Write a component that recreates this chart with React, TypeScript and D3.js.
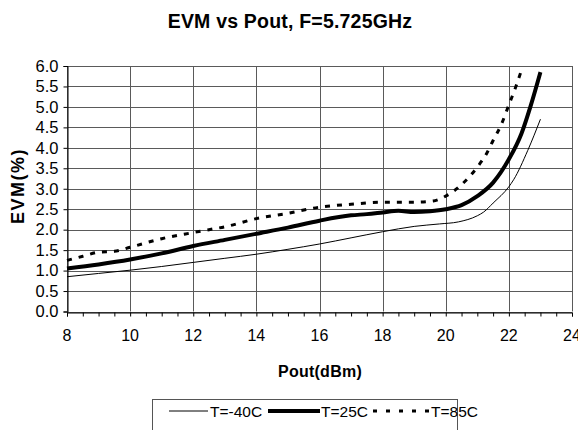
// @ts-nocheck
import React, { useRef, useEffect } from 'react';
import * as d3 from 'd3';

// EVM (%) vs output power
const seriesNames = ["T=-40C", "T=25C", "T=85C"];

const coldPout = [8, 9, 10, 11, 12, 13, 14, 15, 16, 17, 18, 19, 19.8, 20.4, 21, 21.2, 21.5, 22, 22.15, 22.6, 23];
const coldEvm = [0.85, 0.93, 1.01, 1.1, 1.2, 1.3, 1.4, 1.52, 1.65, 1.8, 1.95, 2.08, 2.14, 2.19, 2.34, 2.43, 2.65, 3.05, 3.22, 3.94, 4.7];

const roomPout = [8, 9, 10, 11, 12, 13, 14, 15, 16, 17, 17.5, 18, 18.5, 19, 19.5, 20, 20.5, 21, 21.5, 22, 22.4, 22.7, 23];
const roomEvm = [1.05, 1.15, 1.27, 1.42, 1.6, 1.75, 1.9, 2.05, 2.22, 2.35, 2.38, 2.42, 2.46, 2.43, 2.45, 2.5, 2.6, 2.82, 3.15, 3.72, 4.35, 5.05, 5.85];

const hotPout = [8, 8.5, 9, 9.5, 10, 11, 12, 12.5, 13, 14, 15, 16, 17, 18, 19, 19.6, 20, 20.5, 21, 21.3, 21.5, 21.75, 22, 22.2, 22.4];
const hotEvm = [1.25, 1.35, 1.45, 1.47, 1.57, 1.78, 1.93, 2.0, 2.07, 2.27, 2.4, 2.55, 2.62, 2.67, 2.67, 2.7, 2.82, 3.1, 3.53, 3.87, 4.18, 4.55, 5.05, 5.45, 5.9];

const xTicks = [8, 10, 12, 14, 16, 18, 20, 22, 24];
const yTicks = [0, 0.5, 1, 1.5, 2, 2.5, 3, 3.5, 4, 4.5, 5, 5.5, 6];

const FONT = "'Liberation Sans', Arial, sans-serif";

const EvmChart = () => {
    const svgRef = useRef(null);

    useEffect(() => {
        const svg = d3.select(svgRef.current);
        svg.selectAll('*').remove();

        const left = 67, right = 572, top = 66, bottom = 311.5;

        const x = d3.scaleLinear().domain([8, 24]).range([left, right]);
        const y = d3.scaleLinear().domain([0, 6]).range([bottom, top]);

        // title
        svg.append("text")
            .attr("x", 290)
            .attr("y", 27.5)
            .attr("text-anchor", "middle")
            .attr("font-family", FONT)
            .attr("font-weight", "bold")
            .attr("font-size", 19.5)
            .attr("letter-spacing", 0.2)
            .text("EVM vs Pout, F=5.725GHz");

        // grid
        const grid = svg.append("g").attr("stroke", "#5a5a5a").attr("stroke-width", 1);
        yTicks.forEach(t => {
            grid.append("line")
                .attr("x1", left).attr("x2", right)
                .attr("y1", Math.round(y(t)) + 0.5).attr("y2", Math.round(y(t)) + 0.5);
        });
        xTicks.forEach(t => {
            grid.append("line")
                .attr("x1", Math.round(x(t)) + 0.5).attr("x2", Math.round(x(t)) + 0.5)
                .attr("y1", top).attr("y2", bottom);
        });

        // axes
        const xAxis = d3.axisBottom(x)
            .tickValues(d3.range(8, 24.01, 0.5))
            .tickSize(4)
            .tickFormat(() => "");
        svg.append("g")
            .attr("transform", `translate(0,${Math.round(bottom) + 0.5})`)
            .call(xAxis)
            .call(g => g.select(".domain").attr("stroke", "#000"));

        svg.append("g")
            .selectAll("text")
            .data(xTicks)
            .enter().append("text")
            .attr("x", d => x(d))
            .attr("y", 341)
            .attr("text-anchor", "middle")
            .attr("font-family", FONT)
            .attr("font-size", 16)
            .text(d => d);

        const yAxis = d3.axisLeft(y)
            .tickValues(yTicks)
            .tickSize(4)
            .tickPadding(5)
            .tickFormat(d3.format(".1f"));
        svg.append("g")
            .attr("transform", `translate(${left + 0.5},0)`)
            .call(yAxis)
            .call(g => g.selectAll("text").attr("font-family", FONT).attr("font-size", 16.5).attr("fill", "#000"));

        // axis titles
        svg.append("text")
            .attr("x", 320)
            .attr("y", 377)
            .attr("text-anchor", "middle")
            .attr("font-family", FONT)
            .attr("font-weight", "bold")
            .attr("font-size", 16)
            .attr("letter-spacing", 0.25)
            .text("Pout(dBm)");

        svg.append("text")
            .attr("transform", "translate(24,186) rotate(-90)")
            .attr("text-anchor", "middle")
            .attr("font-family", FONT)
            .attr("font-weight", "bold")
            .attr("font-size", 18)
            .attr("letter-spacing", 1.5)
            .text("EVM(%)");

        // series
        const line = d3.line()
            .x(d => x(d[0]))
            .y(d => y(d[1]))
            .curve(d3.curveMonotoneX);

        const styles = [
            { width: 1, dash: null },
            { width: 4, dash: null },
            { width: 3, dash: "5,7" }
        ];
        const series = [
            d3.zip(coldPout, coldEvm),
            d3.zip(roomPout, roomEvm),
            d3.zip(hotPout, hotEvm)
        ];

        series.forEach((pts, i) => {
            svg.append("path")
                .datum(pts)
                .attr("fill", "none")
                .attr("stroke", "#000")
                .attr("stroke-width", styles[i].width)
                .attr("stroke-dasharray", styles[i].dash)
                .attr("d", line);
        });

        // legend
        svg.append("rect")
            .attr("x", 152.5)
            .attr("y", 399.5)
            .attr("width", 305)
            .attr("height", 40)
            .attr("fill", "#fff")
            .attr("stroke", "#555");

        const legendPos = [
            { x1: 169, x2: 208, tx: 210 },
            { x1: 268, x2: 320, tx: 321 },
            { x1: 373, x2: 430, tx: 431 }
        ];
        seriesNames.forEach((name, i) => {
            const p = legendPos[i];
            svg.append("line")
                .attr("x1", p.x1).attr("x2", p.x2)
                .attr("y1", 411).attr("y2", 411)
                .attr("stroke", "#000")
                .attr("stroke-width", styles[i].width)
                .attr("stroke-dasharray", styles[i].dash ? "4,9" : null);
            svg.append("text")
                .attr("x", p.tx)
                .attr("y", 416.5)
                .attr("font-family", FONT)
                .attr("font-size", 15.5)
                .text(name);
        });
    }, []);

    return (
        <svg ref={svgRef} width={578} height={430}
            style={{ position: 'absolute', left: 0, top: 0, background: '#fff' }}></svg>
    );
};

export default function App() {
    return <EvmChart />;
}
